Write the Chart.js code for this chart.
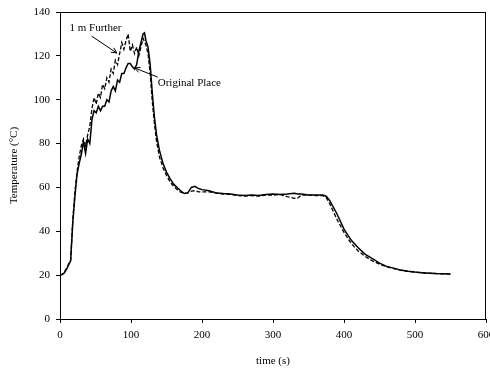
<!DOCTYPE html>
<html><head><meta charset="utf-8">
<script src="https://cdn.jsdelivr.net/npm/chart.js@4.4.1/dist/chart.umd.min.js"></script>
<style>html,body{margin:0;padding:0;background:#fff;}</style>
</head><body>
<canvas id="c" width="490" height="368" style="width:490px;height:368px;display:block"></canvas>
<script>
// time in seconds
const timeS = [0,3,6,9,12,15,18,21,24,27,30,33,36,39,42,45,48,51,54,57,60,63,66,69,72,75,78,81,84,87,90,93,96,99,102,105,108,111,114,117,
  119,121,124,127,130,133,136,
  140,145,150,155,160,165,170,175,180,185,190,195,200,
  210,220,230,240,250,260,270,280,290,300,310,320,330,
  335,340,350,360,370,375,
  380,390,400,410,420,430,440,450,460,470,480,490,500,510,520,530,540,550];
// Temperature (°C) at the original place (solid)
const originalPlace = [20,20.3,21,22.5,24.5,26.5,44,56,66,71,75,81,75.5,82,80,91,95,94,97,95,97,97,100,99,104,106,104,109,108,112,112,114.5,116.5,116.5,115,114,116,122,126,130,
  130.5,127,124,116,103,92,84,
  77,71,67,64,61.5,60,58.5,57.2,57.5,60,60.5,59.5,59,
  58.5,57.5,57.2,57,56.5,56.3,56.5,56.3,56.8,57,56.8,57,57.3,
  57,57,56.5,56.5,56.5,56,
  54,48,41,36,32.5,29.5,27.5,25.5,24,23.2,22.3,21.8,21.4,21.1,20.9,20.7,20.6,20.5];
// Temperature (°C) 1 m further (dashed)
const oneMFurther = [20,20.3,21.5,23,25,27,45,58,67,74,79,82,79,84,88,96,101,98,103,101,107,105,110,108,114,112,118,116,121,126,123,127,130,122,125,121,124,120,124,128,
  126.5,125,121,112,99,89,81,
  74,69,65.5,62.5,60.5,59,57.8,57.3,57.5,58.3,58.5,58,58,
  58,57.5,57,56.8,56.3,56,56.3,56,56.5,56.5,56.8,55.8,55,
  55.2,56.5,56.5,56.3,56.3,55.3,
  52.5,45.5,39.5,34.5,31,28.5,26.5,25,23.8,23,22.2,21.7,21.3,21.1,20.9,20.7,20.6,20.5];
const xTicks = [0,100,200,300,400,500,600];
const yTicks = [0,20,40,60,80,100,120,140];
// annotation labels (data coordinates)
const notes = [
  {text:'1 m Further', tx:13.4, ty:132.7, ax0:44.5, ay0:129, ax1:80, ay1:121.3},
  {text:'Original Place', tx:137.7, ty:107.6, ax0:137.7, ay0:110.3, ax1:105, ay1:114.5}
];

const serif = 'Liberation Serif, Times New Roman, serif';

const framePlugin = {
  id:'frame',
  afterDraw(chart){
    const {ctx, chartArea:a, scales:{x,y}} = chart;
    ctx.save();
    ctx.strokeStyle = '#000'; ctx.lineWidth = 1;
    ctx.strokeRect(Math.round(a.left)+0.5, Math.round(a.top)+0.5, Math.round(a.right-a.left)-1, Math.round(a.bottom-a.top));
    // annotations
    ctx.fillStyle = '#000';
    ctx.font = '11px ' + serif;
    ctx.textBaseline = 'middle';
    ctx.textAlign = 'left';
    notes.forEach(n=>{
      ctx.fillText(n.text, x.getPixelForValue(n.tx), y.getPixelForValue(n.ty));
      const x0=x.getPixelForValue(n.ax0), y0=y.getPixelForValue(n.ay0);
      const x1=x.getPixelForValue(n.ax1), y1=y.getPixelForValue(n.ay1);
      ctx.beginPath(); ctx.moveTo(x0,y0); ctx.lineTo(x1,y1); ctx.lineWidth=1; ctx.stroke();
      const ang = Math.atan2(y1-y0, x1-x0), L=6, w=0.45;
      ctx.beginPath();
      ctx.moveTo(x1 - L*Math.cos(ang-w), y1 - L*Math.sin(ang-w));
      ctx.lineTo(x1,y1);
      ctx.lineTo(x1 - L*Math.cos(ang+w), y1 - L*Math.sin(ang+w));
      ctx.stroke();
    });
    ctx.restore();
  }
};

new Chart(document.getElementById('c'), {
  type:'line',
  data:{
    datasets:[
      {label:'1 m Further', data: timeS.map((t,i)=>({x:t,y:oneMFurther[i]})), borderColor:'#000', borderWidth:1.3, borderDash:[4,2], pointRadius:0, tension:0, fill:false},
      {label:'Original Place', data: timeS.map((t,i)=>({x:t,y:originalPlace[i]})), borderColor:'#000', borderWidth:1.5, pointRadius:0, tension:0, fill:false}
    ]
  },
  options:{
    responsive:false, animation:false, devicePixelRatio:1,
    layout:{padding:{left:0, right:4, top:12, bottom:0}},
    plugins:{legend:{display:false}, tooltip:{enabled:false}},
    scales:{
      x:{type:'linear', min:0, max:600,
        afterBuildTicks(s){ s.ticks = xTicks.map(v=>({value:v})); },
        afterFit(s){ s.height = 49; s.paddingLeft = 0; s.paddingRight = 0; },
        grid:{drawOnChartArea:false, drawTicks:true, tickLength:4, color:'#000'},
        border:{display:true, color:'#000', width:1},
        ticks:{color:'#000', font:{family:serif, size:11}, padding:6, maxRotation:0},
        title:{display:true, text:'time (s)', color:'#000', font:{family:serif, size:11}, padding:{top:0, bottom:0}}
      },
      y:{type:'linear', min:0, max:140,
        afterBuildTicks(s){ s.ticks = yTicks.map(v=>({value:v})); },
        afterFit(s){ s.width = 60; s.paddingTop = 0; s.paddingBottom = 0; },
        grid:{drawOnChartArea:false, drawTicks:true, tickLength:4, color:'#000'},
        border:{display:true, color:'#000', width:1},
        ticks:{color:'#000', font:{family:serif, size:11}, padding:6},
        title:{display:true, text:'Temperature (°C)', color:'#000', font:{family:serif, size:11}, padding:{top:8, bottom:0}}
      }
    }
  },
  plugins:[framePlugin]
});
</script>
</body></html>
